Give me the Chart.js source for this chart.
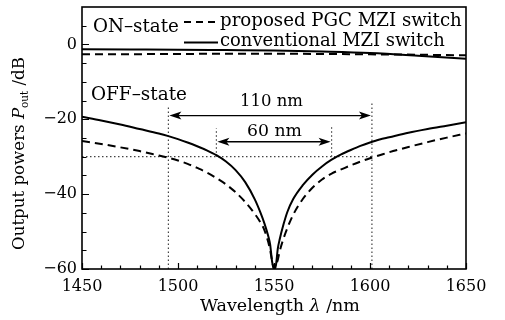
<!DOCTYPE html>
<html>
<head>
<meta charset="utf-8">
<script src="https://cdn.jsdelivr.net/npm/chart.js@4.4.0/dist/chart.umd.min.js"></script>
<style>
body { margin: 0; background: #fff; }
#wrap { width: 505px; height: 320px; }
</style>
</head>
<body>
<div id="wrap"><canvas id="graph" width="505" height="320"></canvas></div>
<script>
//Data - OFF-state (wavelength in nm, power in dB)
var lambdaOff = [1450, 1460, 1470, 1480, 1490, 1495, 1500, 1505, 1510, 1515, 1520, 1525, 1530, 1535, 1540, 1543, 1545, 1547, 1548, 1549, 1550,
    1551, 1552, 1553, 1555, 1557, 1560, 1565, 1570, 1575, 1580, 1585, 1590, 1595, 1600, 1605, 1610, 1620, 1630, 1640, 1650];
var offConventional = [-19.3, -20.3, -21.4, -22.6, -23.8, -24.5, -25.3, -26.2, -27.2, -28.3, -29.6, -31.3, -33.6, -36.8, -41.4, -45.0, -47.8, -51.2, -53.5, -58.0, -60.0,
    -59.0, -54.5, -52.0, -48.0, -44.7, -41.3, -37.6, -34.8, -32.6, -30.8, -29.4, -28.2, -27.1, -26.2, -25.4, -24.8, -23.6, -22.6, -21.7, -20.8];
var offProposed = [-25.8, -26.6, -27.5, -28.5, -29.7, -30.3, -31.0, -31.9, -33.0, -34.2, -35.7, -37.4, -39.5, -42.1, -45.3, -47.6, -49.6, -52.8, -55.0, -57.8, -60.0,
    -59.0, -57.5, -55.2, -51.8, -49.0, -45.5, -41.3, -38.3, -36.1, -34.5, -33.4, -32.3, -31.3, -30.4, -29.6, -28.8, -27.4, -26.1, -24.9, -23.8];

//Data - ON-state
var lambdaOn = [1450, 1475, 1500, 1525, 1550, 1575, 1600, 1625, 1650];
var onConventional = [-1.3, -1.35, -1.4, -1.5, -1.6, -1.9, -2.3, -3.0, -3.8];
var onProposed = [-2.6, -2.6, -2.55, -2.5, -2.5, -2.55, -2.65, -2.75, -2.9];

//Axes
var xTicks = [1450, 1500, 1550, 1600, 1650];
var yTicks = [-60, -40, -20, 0];

//Bandwidth markers (-30 dB level)
var bw110 = [1495, 1601];
var bw110Top = [-16.3, -15.8];
var bw110ArrowY = -19;
var bw60 = [1520, 1580];
var bw60Top = [-22.4, -21.6];
var bw60ArrowY = -26;
var levelDb = -30;

function toPoints(xs, ys) {
    var pts = [];
    for (var i = 0; i < xs.length; i++) {
        pts.push({ x: xs[i], y: ys[i] });
    }
    return pts;
}

function guide(points) {
    return {
        data: points,
        borderColor: '#444',
        borderWidth: 1.2,
        borderDash: [1.5, 2.5],
        pointRadius: 0,
        tension: 0
    };
}

var FONT = '"DejaVu Serif", "Liberation Serif", serif';

function drawArrowHead(ctx, x, y, dir) {
    ctx.beginPath();
    ctx.moveTo(x, y);
    ctx.lineTo(x - dir * 12, y - 4);
    ctx.lineTo(x - dir * 9, y);
    ctx.lineTo(x - dir * 12, y + 4);
    ctx.closePath();
    ctx.fill();
}

function drawArrow(ctx, xs, ys, v1, v2, yv) {
    var x1 = xs.getPixelForValue(v1) + 1;
    var x2 = xs.getPixelForValue(v2) - 1;
    var y = ys.getPixelForValue(yv);
    ctx.lineWidth = 1.3;
    ctx.beginPath();
    ctx.moveTo(x1 + 8, y);
    ctx.lineTo(x2 - 8, y);
    ctx.stroke();
    drawArrowHead(ctx, x1, y, -1);
    drawArrowHead(ctx, x2, y, 1);
}

//Texte composé (normal / italique / indice), mis à la largeur voulue
function drawParts(ctx, parts, x, y, width, align) {
    var total = 0;
    parts.forEach(function (p) {
        ctx.font = (p.italic ? 'italic ' : '') + p.size + 'px ' + FONT;
        total += ctx.measureText(p.t).width;
    });
    var k = width / total;
    var sum = 0;
    parts.forEach(function (p) {
        ctx.font = (p.italic ? 'italic ' : '') + (p.size * k) + 'px ' + FONT;
        p.w = ctx.measureText(p.t).width;
        sum += p.w;
    });
    var cx = (align === 'left') ? x : x - sum / 2;
    parts.forEach(function (p) {
        ctx.font = (p.italic ? 'italic ' : '') + (p.size * k) + 'px ' + FONT;
        ctx.fillText(p.t, cx, y + (p.dy || 0) * k);
        cx += p.w;
    });
}

var decor = {
    id: 'decor',
    afterDraw: function (chart) {
        var ctx = chart.ctx;
        var a = chart.chartArea;
        var xs = chart.scales.x;
        var ys = chart.scales.y;
        ctx.save();
        ctx.strokeStyle = '#000';
        ctx.fillStyle = '#000';

        //cadre
        ctx.lineWidth = 1.6;
        ctx.strokeRect(a.left, a.top, a.right - a.left, a.bottom - a.top);

        //graduations intérieures
        ctx.lineWidth = 1.2;
        ctx.beginPath();
        for (var v = 1450; v <= 1650; v += 10) {
            var px = Math.round(xs.getPixelForValue(v)) + 0.5;
            var len = (v % 50 === 0) ? 6 : 3.5;
            ctx.moveTo(px, a.bottom);
            ctx.lineTo(px, a.bottom - len);
        }
        for (var w = -60; w <= 5; w += 5) {
            var py = Math.round(ys.getPixelForValue(w)) + 0.5;
            var l2 = (w % 20 === 0) ? 7 : 4.5;
            ctx.moveTo(a.left, py);
            ctx.lineTo(a.left + l2, py);
        }
        ctx.stroke();

        //flèches
        drawArrow(ctx, xs, ys, bw110[0], bw110[1], bw110ArrowY);
        drawArrow(ctx, xs, ys, bw60[0], bw60[1], bw60ArrowY);

        ctx.textBaseline = 'middle';
        ctx.textAlign = 'left';
        drawParts(ctx, [{ t: '110 nm', size: 16 }], 271.5, 102, 63);
        drawParts(ctx, [{ t: '60 nm', size: 16 }], 274.5, 132, 55);
        drawParts(ctx, [{ t: 'ON\u2013state', size: 16 }], 93, 27, 86, 'left');
        drawParts(ctx, [{ t: 'OFF\u2013state', size: 16 }], 91, 95, 96, 'left');

        //légende
        ctx.lineWidth = 2;
        ctx.setLineDash([7, 5]);
        ctx.beginPath();
        ctx.moveTo(184, 22);
        ctx.lineTo(218, 22);
        ctx.stroke();
        ctx.setLineDash([]);
        ctx.beginPath();
        ctx.moveTo(184, 42.5);
        ctx.lineTo(218, 42.5);
        ctx.stroke();
        drawParts(ctx, [{ t: 'proposed PGC MZI switch', size: 16 }], 220, 21, 242, 'left');
        drawParts(ctx, [{ t: 'conventional MZI switch', size: 16 }], 220, 41, 225, 'left');

        //titres des axes
        drawParts(ctx, [
            { t: 'Wavelength ', size: 16 },
            { t: '\u03bb', size: 16, italic: true },
            { t: ' /nm', size: 16 }
        ], 280, 306, 160);

        ctx.translate(20, 153.5);
        ctx.rotate(-Math.PI / 2);
        drawParts(ctx, [
            { t: 'Output powers ', size: 16 },
            { t: 'P', size: 16, italic: true },
            { t: 'out', size: 10, dy: 5 },
            { t: ' /dB', size: 16 }
        ], 0, 0, 193);
        ctx.restore();
    }
};

function DisplayGraphSwitch(graphId) {
    var ctx = document.getElementById(graphId).getContext('2d');
    Chart.defaults.font.family = FONT;
    Chart.defaults.font.size = 16;
    Chart.defaults.color = '#000';

    var chart = new Chart(ctx, {
        type: 'line',
        data: {
            datasets: [
                {
                    data: toPoints(lambdaOff, offConventional),
                    borderColor: '#000', borderWidth: 2, pointRadius: 0,
                    cubicInterpolationMode: 'monotone'
                },
                {
                    data: toPoints(lambdaOff, offProposed),
                    borderColor: '#000', borderWidth: 2, borderDash: [8, 5], pointRadius: 0,
                    cubicInterpolationMode: 'monotone'
                },
                {
                    data: toPoints(lambdaOn, onConventional),
                    borderColor: '#000', borderWidth: 2, pointRadius: 0,
                    cubicInterpolationMode: 'monotone'
                },
                {
                    data: toPoints(lambdaOn, onProposed),
                    borderColor: '#000', borderWidth: 2, borderDash: [8, 5], pointRadius: 0,
                    cubicInterpolationMode: 'monotone'
                },
                guide([{ x: bw110[0], y: -60 }, { x: bw110[0], y: bw110Top[0] }]),
                guide([{ x: bw110[1], y: -60 }, { x: bw110[1], y: bw110Top[1] }]),
                guide([{ x: bw60[0], y: levelDb }, { x: bw60[0], y: bw60Top[0] }]),
                guide([{ x: bw60[1], y: levelDb }, { x: bw60[1], y: bw60Top[1] }]),
                guide([{ x: 1450, y: levelDb }, { x: bw110[1], y: levelDb }])
            ]
        },
        options: {
            responsive: false,
            animation: false,
            layout: { padding: { left: 0, top: 7, right: 39, bottom: 0 } },
            plugins: {
                legend: { display: false },
                tooltip: { enabled: false }
            },
            scales: {
                x: {
                    type: 'linear',
                    min: 1450,
                    max: 1650,
                    grid: { display: false, tickLength: 0 },
                    border: { display: false },
                    ticks: { padding: 8, maxRotation: 0, font: { size: 16 },
                        callback: function (v) { return String(v); } },
                    afterBuildTicks: function (scale) {
                        scale.ticks = xTicks.map(function (v) { return { value: v }; });
                    },
                    afterFit: function (scale) { scale.height = 51; }
                },
                y: {
                    type: 'linear',
                    min: -60,
                    max: 10,
                    grid: { display: false, tickLength: 0 },
                    border: { display: false },
                    ticks: { padding: 5, font: { size: 16 },
                        callback: function (v) { return String(v).replace('-', '\u2212'); } },
                    afterBuildTicks: function (scale) {
                        scale.ticks = yTicks.map(function (v) { return { value: v }; });
                    },
                    afterFit: function (scale) {
                        scale.width = 82;
                        scale.paddingTop = 0;
                        scale.paddingBottom = 0;
                    }
                }
            }
        },
        plugins: [decor]
    });
}

DisplayGraphSwitch('graph');
</script>
</body>
</html>
